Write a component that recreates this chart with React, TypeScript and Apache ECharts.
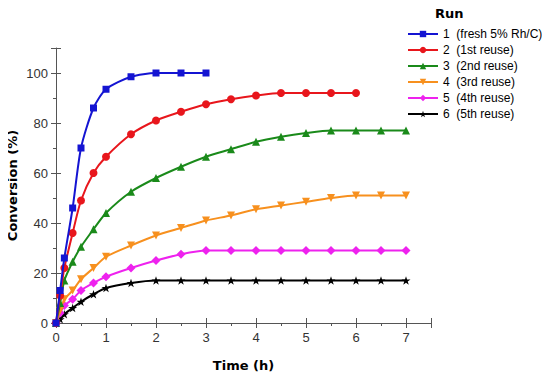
import React, { useEffect, useRef } from "react";
import * as echarts from "echarts";

const times = [0, 0.083, 0.167, 0.333, 0.5, 0.75, 1, 1.5, 2, 2.5, 3, 3.5, 4, 4.5, 5, 5.5, 6, 6.5, 7];
const run1 = [0, 13, 26, 46, 70, 86, 93.5, 98.5, 100, 100, 100];
const run2 = [0, 11, 22, 36, 49, 60, 66.5, 75.5, 81, 84.5, 87.5, 89.5, 91, 92, 92, 92, 92];
const run3 = [0, 8, 17, 24.5, 30.5, 37.5, 44, 52.5, 58, 62.5, 66.5, 69.5, 72.5, 74.5, 76, 77, 77, 77, 77];
const run4 = [0, 5, 9.5, 13, 17.5, 22, 26.5, 31, 35, 38, 41, 43, 45.5, 47, 48.5, 50, 51, 51, 51];
const run5 = [0, 4, 7, 9.5, 13, 16, 18.5, 22, 25, 27.5, 29, 29, 29, 29, 29, 29, 29, 29, 29];
const run6 = [0, 1.5, 3.5, 6, 8.5, 11.5, 14, 16, 17, 17, 17, 17, 17, 17, 17, 17, 17, 17, 17];
const runNames = [
  "1  (fresh 5% Rh/C)",
  "2  (1st reuse)",
  "3  (2nd reuse)",
  "4  (3rd reuse)",
  "5  (4th reuse)",
  "6  (5th reuse)",
];
const colors = ["#1414d2", "#e8161c", "#1a8a1a", "#f7901e", "#ee22ee", "#000000"];
const symbols = [
  "rect",
  "circle",
  "triangle",
  "path://M0,0 L10,0 L5,10 Z",
  "diamond",
  "path://M5,0 L6.2,3.6 L10,3.6 L6.9,5.9 L8.1,9.5 L5,7.3 L1.9,9.5 L3.1,5.9 L0,3.6 L3.8,3.6 Z",
];
const symbolSizes = [7, 8, 8, 8, 9, 9];
const yTicks = { min: 0, max: 110, interval: 20 };
const xTicks = { min: 0, max: 7.5, interval: 1 };

export default function App() {
  const ref = useRef<HTMLDivElement>(null);
  useEffect(() => {
    if (!ref.current) return;
    const chart = echarts.init(ref.current, null, { renderer: "svg" });
    const all = [run1, run2, run3, run4, run5, run6];
    const axisColor = "#555";
    const labelStyle = { color: "#333", fontFamily: "Liberation Sans", fontSize: 13 };
    const nameStyle = { color: "#000", fontFamily: "DejaVu Sans", fontWeight: "bold" as const, fontSize: 13 };
    chart.setOption({
      animation: false,
      backgroundColor: "#fff",
      title: {
        text: "Run",
        left: 430,
        top: 2,
        textStyle: { fontFamily: "DejaVu Sans", fontWeight: "bold", fontSize: 13, color: "#000" },
      },
      legend: {
        orient: "vertical",
        left: 402,
        top: 23,
        itemWidth: 30,
        itemHeight: 8,
        itemGap: 4,
        textStyle: { fontFamily: "Liberation Sans", fontSize: 12, color: "#000", lineHeight: 12 },
        data: runNames,
      },
      grid: { left: 56, right: 119, top: 48, bottom: 57, outerBoundsMode: "none", containLabel: false },
      xAxis: [
        {
          type: "value",
          ...xTicks,
          name: "Time (h)",
          nameLocation: "middle",
          nameGap: 36,
          nameMoveOverlap: false,
          nameTextStyle: nameStyle,
          axisLine: { show: true, lineStyle: { color: axisColor, width: 1 } },
          axisTick: { show: true, length: 5, lineStyle: { color: axisColor } },
          minorTick: { show: true, splitNumber: 2, length: 3, lineStyle: { color: axisColor } },
          axisLabel: { ...labelStyle, margin: 8, showMaxLabel: false },
          splitLine: { show: false },
        },
        {
          type: "value",
          ...xTicks,
          position: "bottom",
          axisLine: { show: false },
          axisTick: { show: true, inside: true, length: 5, lineStyle: { color: axisColor } },
          axisLabel: { show: false },
          splitLine: { show: false },
        },
      ],
      yAxis: [
        {
          type: "value",
          ...yTicks,
          name: "Conversion (%)",
          nameLocation: "middle",
          nameGap: 37,
          nameMoveOverlap: false,
          nameTextStyle: nameStyle,
          axisLine: { show: true, lineStyle: { color: axisColor, width: 1 } },
          axisTick: { show: true, length: 5, lineStyle: { color: axisColor } },
          minorTick: { show: true, splitNumber: 2, length: 3, lineStyle: { color: axisColor } },
          axisLabel: { ...labelStyle, margin: 8, showMaxLabel: false },
          splitLine: { show: false },
        },
        {
          type: "value",
          ...yTicks,
          position: "left",
          axisLine: { show: false },
          axisTick: { show: true, inside: true, length: 5, lineStyle: { color: axisColor } },
          axisLabel: { show: false },
          splitLine: { show: false },
        },
      ],
      series: all.map((vals, i) => ({
        name: runNames[i],
        type: "line",
        xAxisIndex: 0,
        yAxisIndex: 0,
        data: vals.map((v, j) => [times[j], v]),
        smooth: 0.25,
        symbol: symbols[i],
        symbolSize: symbolSizes[i],
        symbolKeepAspect: true,
        showAllSymbol: true,
        color: colors[i],
        lineStyle: { width: 2, color: colors[i] },
        itemStyle: { color: colors[i] },
        z: 10 - i,
      })),
    });
    return () => chart.dispose();
  }, []);
  return <div ref={ref} style={{ width: 550, height: 380, margin: -8 }} />;
}
